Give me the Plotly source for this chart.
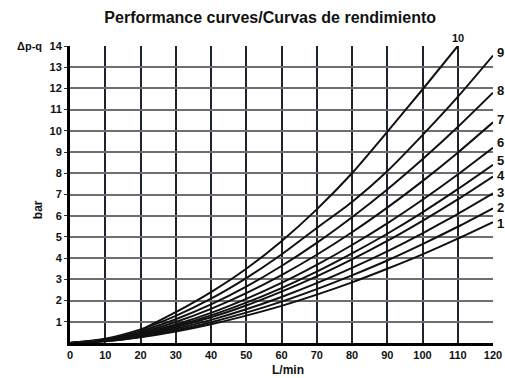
import plotly.graph_objects as go

# Flow rate (L/min) sampled every 10 L/min
flow = [0, 10, 20, 30, 40, 50, 60, 70, 80, 90, 100, 110, 120]

# Pressure drop (bar) for curves 1..9
curve_1 = [0, 0.08, 0.27, 0.54, 0.88, 1.29, 1.75, 2.28, 2.86, 3.50, 4.18, 4.92, 5.70]
curve_2 = [0, 0.09, 0.30, 0.60, 0.98, 1.43, 1.95, 2.54, 3.19, 3.89, 4.66, 5.48, 6.35]
curve_3 = [0, 0.10, 0.34, 0.67, 1.09, 1.59, 2.17, 2.82, 3.54, 4.32, 5.17, 6.08, 7.05]
curve_4 = [0, 0.11, 0.37, 0.74, 1.21, 1.77, 2.42, 3.14, 3.94, 4.81, 5.76, 6.77, 7.85]
curve_5 = [0, 0.12, 0.40, 0.80, 1.30, 1.90, 2.59, 3.36, 4.22, 5.15, 6.16, 7.25, 8.40]
curve_6 = [0, 0.13, 0.44, 0.87, 1.42, 2.08, 2.83, 3.68, 4.62, 5.64, 6.75, 7.94, 9.20]
curve_7 = [0, 0.15, 0.49, 0.99, 1.61, 2.35, 3.20, 4.16, 5.22, 6.38, 7.63, 8.97, 10.40]
curve_8 = [0, 0.17, 0.56, 1.12, 1.82, 2.66, 3.63, 4.72, 5.93, 7.24, 8.66, 10.18, 11.80]
curve_9 = [0, 0.20, 0.64, 1.28, 2.09, 3.06, 4.17, 5.42, 6.65, 8.10, 9.80, 11.60, 13.55]

# Curve 10 starts at 20 L/min and leaves the chart at 14 bar
flow_10 = [20, 30, 40, 50, 60, 70, 80, 90, 100, 110]
curve_10 = [0.6, 1.45, 2.4, 3.5, 4.8, 6.3, 8.0, 9.95, 11.95, 14.0]

curve_names = ["1", "2", "3", "4", "5", "6", "7", "8", "9"]
x_ticks = [0, 10, 20, 30, 40, 50, 60, 70, 80, 90, 100, 110, 120]
y_ticks = [1, 2, 3, 4, 5, 6, 7, 8, 9, 10, 11, 12, 13, 14]

series = [curve_1, curve_2, curve_3, curve_4, curve_5,
          curve_6, curve_7, curve_8, curve_9]

FONT = "Liberation Sans, Arial, sans-serif"
LINE = dict(color="#111111", width=2, shape="spline", smoothing=0.6)
BOLD = dict(family=FONT, size=11, color="#111", weight="bold")

fig = go.Figure()
for name, vals in zip(curve_names, series):
    fig.add_trace(go.Scatter(x=flow, y=vals, mode="lines", line=LINE,
                             name=name, showlegend=False, hoverinfo="skip"))
fig.add_trace(go.Scatter(x=flow_10, y=curve_10, mode="lines", line=LINE,
                         name="10", showlegend=False, hoverinfo="skip"))

# Curve numbers at the right edge
shifts = {"1": -1, "2": 1, "3": 1, "4": 1, "5": 4, "6": 5, "7": 3, "8": 2, "9": 3}
for name, vals in zip(curve_names, series):
    fig.add_annotation(x=flow[-1], y=vals[-1], text=f"<b>{name}</b>",
                       showarrow=False, xanchor="left", xshift=2,
                       yshift=shifts[name],
                       font=dict(family=FONT, size=13, color="#111"))
fig.add_annotation(x=flow_10[-1], y=curve_10[-1], text="<b>10</b>",
                   showarrow=False, yanchor="bottom", yshift=0,
                   font=dict(family=FONT, size=11, color="#111"))

# Axis captions
fig.add_annotation(xref="paper", yref="paper", x=-0.13, y=1.0,
                   text="<b>Δp-q</b>", showarrow=False, xanchor="left",
                   yanchor="middle", font=dict(family=FONT, size=11, color="#111"))
fig.add_annotation(xref="paper", yref="paper", x=-0.095, y=0.45,
                   text="<b>bar</b>", showarrow=False, textangle=-90,
                   font=dict(family=FONT, size=12, color="#111"))
fig.add_annotation(xref="paper", yref="paper", x=0.515, y=-0.09,
                   text="<b>L/min</b>", showarrow=False, yanchor="middle",
                   font=dict(family=FONT, size=12, color="#111"))

fig.update_layout(
    width=505, height=378,
    margin=dict(l=70, r=12, t=46, b=35),
    paper_bgcolor="white", plot_bgcolor="white",
    title=dict(text="<b>Performance curves/Curvas de rendimiento</b>",
               x=0.535, xanchor="center", y=0.955, yanchor="middle",
               font=dict(family=FONT, size=16, color="#111")),
    xaxis=dict(range=[0, 120], tickvals=x_ticks, showgrid=True,
               gridcolor="#1c2430", gridwidth=1.5,
               showline=True, linecolor="#000", linewidth=3,
               ticks="", tickfont=BOLD, automargin=False,
               zeroline=False, mirror=False, fixedrange=True),
    yaxis=dict(range=[0, 14], tickvals=y_ticks, showgrid=True,
               gridcolor="#6e6e6e", gridwidth=2,
               showline=True, linecolor="#000", linewidth=3,
               ticks="outside", ticklen=3, tickcolor="#333",
               tickfont=BOLD, automargin=False,
               zeroline=False, fixedrange=True),
)

fig.write_html("out.html")
